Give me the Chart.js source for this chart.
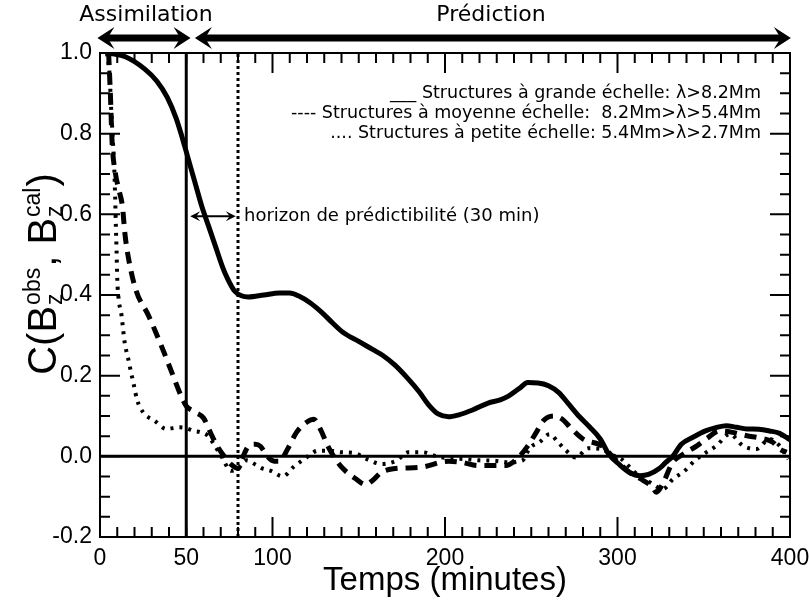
<!DOCTYPE html>
<html>
<head>
<meta charset="utf-8">
<script src="https://cdn.jsdelivr.net/npm/chart.js@4/dist/chart.umd.min.js"></script>
<style>
  body { margin: 0; background: #fff; }
</style>
</head>
<body>
<canvas id="chart" width="809" height="606"></canvas>
<script>
// Large scale structures (solid)
const grandeTemps = [5, 15, 26, 33, 39, 44, 47, 51, 55, 59, 63, 67, 71, 74, 78, 82, 86, 95, 104, 110, 115, 122, 129, 135, 141, 150, 158, 164, 171, 178, 185, 191, 196, 202, 208, 216, 225, 232, 237, 243, 248, 254, 260, 266, 272, 278, 284, 290, 295, 301, 307, 313, 318, 324, 328, 332, 337, 344, 351, 357, 363, 369, 375, 382, 388, 394, 400];
const grandeCorr = [1.0, 0.99, 0.96, 0.93, 0.89, 0.84, 0.80, 0.74, 0.68, 0.62, 0.57, 0.52, 0.47, 0.44, 0.41, 0.398, 0.395, 0.40, 0.405, 0.405, 0.398, 0.38, 0.355, 0.33, 0.307, 0.285, 0.265, 0.25, 0.226, 0.195, 0.16, 0.125, 0.105, 0.098, 0.103, 0.115, 0.132, 0.14, 0.15, 0.168, 0.183, 0.182, 0.175, 0.158, 0.128, 0.098, 0.072, 0.043, 0.005, -0.02, -0.04, -0.048, -0.045, -0.031, -0.015, 0.0, 0.03, 0.048, 0.063, 0.071, 0.076, 0.072, 0.068, 0.067, 0.063, 0.057, 0.041];

// Medium scale structures (dashed)
const moyenneTemps = [5, 6, 7, 9, 11, 13, 14.5, 17, 21, 28, 35, 41, 47, 50, 55, 60, 65, 68, 72, 76, 80, 83, 86, 90, 93, 97, 101, 104, 109, 114, 120, 124, 128, 132, 137, 141, 148, 154, 158, 163, 170, 186, 202, 210, 219, 235, 242, 248, 253, 257, 263, 268, 273, 280, 291, 297, 307, 315, 320, 322.5, 326, 332, 338, 346, 352, 359, 366, 375, 383, 390, 394, 398];
const moyenneCorr = [1.0, 0.9, 0.78, 0.7, 0.66, 0.62, 0.55, 0.48, 0.41, 0.35, 0.28, 0.215, 0.15, 0.125, 0.11, 0.095, 0.05, 0.025, 0.0, -0.02, -0.03, 0.0, 0.025, 0.03, 0.025, 0.0, -0.012, -0.012, 0.02, 0.06, 0.085, 0.092, 0.065, 0.026, -0.01, -0.031, -0.055, -0.07, -0.06, -0.04, -0.031, -0.027, -0.012, -0.015, -0.023, -0.023, -0.005, 0.026, 0.06, 0.088, 0.1, 0.092, 0.07, 0.043, 0.026, 0.0, -0.04, -0.06, -0.075, -0.089, -0.07, -0.015, 0.005, 0.026, 0.045, 0.063, 0.06, 0.051, 0.045, 0.035, 0.018, 0.01];

// Small scale structures (dotted)
const petiteTemps = [4, 5.5, 6.5, 7.5, 8.3, 8.8, 9.2, 9.6, 10, 10.8, 12.4, 14.3, 16.2, 17.8, 19.7, 21.5, 25, 31.7, 38.5, 46, 50, 54, 58, 62.6, 66, 70.4, 76, 80, 85, 90, 94, 99, 106, 112, 119.6, 126.4, 133, 140, 147.6, 155.4, 163, 171.8, 178.6, 187.2, 195, 203, 212.4, 220, 228.8, 237, 245, 249, 255, 260.7, 265.5, 270, 276, 282.9, 290.7, 296, 302.3, 308, 313, 318.7, 326.4, 332.2, 339, 344.7, 351.5, 357.3, 365, 372.8, 380.5, 388, 394, 399];
const petiteCorr = [1.0, 0.95, 0.86, 0.78, 0.71, 0.64, 0.57, 0.51, 0.44, 0.39, 0.352, 0.282, 0.245, 0.212, 0.175, 0.14, 0.109, 0.088, 0.068, 0.072, 0.07, 0.063, 0.06, 0.051, 0.03, 0.0, -0.036, -0.03, -0.01, -0.02, -0.03, -0.036, -0.05, -0.027, -0.003, 0.014, 0.014, 0.01, 0.008, -0.008, -0.019, -0.011, 0.01, 0.01, 0.0, -0.005, -0.007, -0.01, -0.011, -0.015, -0.01, 0.02, 0.036, 0.055, 0.035, 0.015, -0.003, 0.02, 0.018, 0.005, -0.007, -0.031, -0.05, -0.064, -0.081, -0.056, -0.036, -0.011, 0.01, 0.026, 0.055, 0.026, 0.018, 0.043, 0.026, -0.007];

const xTickValues = [0, 50, 100, 200, 300, 400];
const legendLines = [
  '___ Structures à grande échelle: λ>8.2Mm',
  '---- Structures à moyenne échelle:  8.2Mm>λ>5.4Mm',
  '.... Structures à petite échelle: 5.4Mm>λ>2.7Mm'
];
const finAssimilation = 50;   // end of the assimilation window (minutes)
const horizon = 80;           // predictability horizon (minutes)

function toPoints(xs, ys) {
  return xs.map((x, i) => ({ x: x, y: ys[i] }));
}

function arrowHead(ctx, x, y, dir, len, half) {
  ctx.beginPath();
  ctx.moveTo(x, y);
  ctx.lineTo(x - dir * len, y - half);
  ctx.lineTo(x - dir * len * 0.6, y);
  ctx.lineTo(x - dir * len, y + half);
  ctx.closePath();
  ctx.fill();
}

function doubleArrow(ctx, x1, x2, y, w, len, half) {
  ctx.lineWidth = w;
  ctx.beginPath();
  ctx.moveTo(x1 + len * 0.5, y);
  ctx.lineTo(x2 - len * 0.5, y);
  ctx.stroke();
  arrowHead(ctx, x1, y, -1, len, half);
  arrowHead(ctx, x2, y, 1, len, half);
}

// frame, inward ticks, arrows and all extra texts
const decorPlugin = {
  id: 'decor',
  afterDatasetsDraw(chart) {
    const ctx = chart.ctx;
    const area = chart.chartArea;
    const xs = chart.scales.x;
    const ys = chart.scales.y;
    ctx.save();
    ctx.strokeStyle = '#000';
    ctx.fillStyle = '#000';

    // frame
    ctx.lineWidth = 2;
    ctx.strokeRect(area.left, area.top, area.right - area.left, area.bottom - area.top);

    // ticks pointing inside, on all four sides
    ctx.lineWidth = 2;
    ctx.beginPath();
    for (let v = 0; v <= 400; v += 10) {
      const px = xs.getPixelForValue(v);
      const len = v % 100 === 0 ? 20 : 10;
      ctx.moveTo(px, area.bottom);
      ctx.lineTo(px, area.bottom - len);
      ctx.moveTo(px, area.top);
      ctx.lineTo(px, area.top + len);
    }
    for (let k = 0; k <= 24; k++) {
      const v = -0.2 + k * 0.05;
      const py = ys.getPixelForValue(v);
      const len = k % 4 === 0 ? 20 : 10;
      ctx.moveTo(area.left, py);
      ctx.lineTo(area.left + len, py);
      ctx.moveTo(area.right, py);
      ctx.lineTo(area.right - len, py);
    }
    ctx.stroke();

    // assimilation / prediction arrows above the plot
    const yArrow = area.top - 15;
    doubleArrow(ctx, xs.getPixelForValue(-1.5), xs.getPixelForValue(52.5), yArrow, 7, 17, 11);
    doubleArrow(ctx, xs.getPixelForValue(55), xs.getPixelForValue(400.5), yArrow, 7, 17, 11);
    ctx.font = '22px "DejaVu Sans"';
    ctx.textAlign = 'center';
    ctx.textBaseline = 'middle';
    ctx.fillText('Assimilation', 146, 15);
    ctx.fillText('Prédiction', 491, 15);

    // legend text
    ctx.font = '17.5px "DejaVu Sans"';
    ctx.textAlign = 'right';
    legendLines.forEach((t, i) => {
      ctx.fillText(t, area.right - 29, area.top + 40 + i * 20.3);
    });

    // predictability horizon
    const yH = ys.getPixelForValue(0.595);
    doubleArrow(ctx, xs.getPixelForValue(finAssimilation + 2.3), xs.getPixelForValue(horizon - 1.3), yH, 2, 10, 5);
    ctx.font = '18px "DejaVu Sans"';
    ctx.textAlign = 'left';
    ctx.fillText('horizon de prédictibilité (30 min)', xs.getPixelForValue(horizon) + 6, yH);

    // x axis title
    ctx.font = '33px "Liberation Sans"';
    ctx.textAlign = 'center';
    ctx.textBaseline = 'middle';
    ctx.fillText('Temps (minutes)', (area.left + area.right) / 2, 581);

    // y axis title with sub/superscripts, rotated
    const big = '40px "Liberation Sans"';
    const small = '23px "Liberation Sans"';
    const parts = [
      { t: 'C(' }, { t: 'B' }, { sub: 'z', sup: 'obs' }, { t: ', ' },
      { t: 'B' }, { sub: 'z', sup: 'cal' }, { t: ')' }
    ];
    let total = 0;
    parts.forEach(p => {
      if (p.t) { ctx.font = big; p.w = ctx.measureText(p.t).width; }
      else { ctx.font = small; p.w = Math.max(ctx.measureText(p.sub).width, ctx.measureText(p.sup).width) + 2; }
      total += p.w;
    });
    ctx.translate(56, 274);
    ctx.rotate(-Math.PI / 2);
    ctx.textAlign = 'left';
    ctx.textBaseline = 'alphabetic';
    let cx = -total / 2;
    parts.forEach(p => {
      if (p.t) {
        ctx.font = big;
        ctx.fillText(p.t, cx, 0);
      } else {
        ctx.font = small;
        ctx.fillText(p.sup, cx + 1, -16);
        ctx.fillText(p.sub, cx + 1, 6);
      }
      cx += p.w;
    });
    ctx.restore();
  }
};

const lineStyle = { borderColor: '#000', pointRadius: 0, fill: false, cubicInterpolationMode: 'monotone' };

new Chart(document.getElementById('chart'), {
  type: 'line',
  data: {
    datasets: [
      Object.assign({ label: 'grande', data: toPoints(grandeTemps, grandeCorr), borderWidth: 5 }, lineStyle),
      Object.assign({ label: 'moyenne', data: toPoints(moyenneTemps, moyenneCorr), borderWidth: 5, borderDash: [12, 8] }, lineStyle),
      Object.assign({ label: 'petite', data: toPoints(petiteTemps, petiteCorr), borderWidth: 4, borderDash: [3, 6] }, lineStyle),
      { label: 'zero', data: [{ x: 0, y: 0 }, { x: 400, y: 0 }], borderColor: '#000', borderWidth: 3, pointRadius: 0 },
      { label: 'assim', data: [{ x: finAssimilation, y: -0.2 }, { x: finAssimilation, y: 1.0 }], borderColor: '#000', borderWidth: 3, pointRadius: 0 },
      { label: 'horizon', data: [{ x: horizon, y: -0.2 }, { x: horizon, y: 1.0 }], borderColor: '#000', borderWidth: 3, borderDash: [3, 3], pointRadius: 0 }
    ]
  },
  options: {
    responsive: false,
    animation: false,
    events: [],
    layout: { padding: { top: 53, right: 19, left: 0, bottom: 0 } },
    plugins: { legend: { display: false }, tooltip: { enabled: false } },
    scales: {
      x: {
        type: 'linear',
        min: 0,
        max: 400,
        grid: { display: false, drawTicks: false },
        border: { display: false },
        afterBuildTicks: scale => { scale.ticks = xTickValues.map(v => ({ value: v })); },
        afterFit: scale => {
          scale.height = 69;
          scale.paddingLeft = 0;
          scale.paddingRight = 0;
        },
        ticks: {
          padding: 8,
          maxRotation: 0,
          autoSkip: false,
          color: '#000',
          font: { family: 'Liberation Sans', size: 23 },
          callback: v => String(v)
        }
      },
      y: {
        min: -0.2,
        max: 1.0,
        grid: { display: false, drawTicks: false },
        border: { display: false },
        afterFit: scale => {
          scale.width = 100;
          scale.paddingTop = 0;
          scale.paddingBottom = 0;
        },
        ticks: {
          stepSize: 0.2,
          padding: 8,
          color: '#000',
          font: { family: 'Liberation Sans', size: 23 },
          callback: v => (Math.abs(v) < 1e-9 ? 0 : v).toFixed(1)
        }
      }
    }
  },
  plugins: [decorPlugin]
});
</script>
</body>
</html>
